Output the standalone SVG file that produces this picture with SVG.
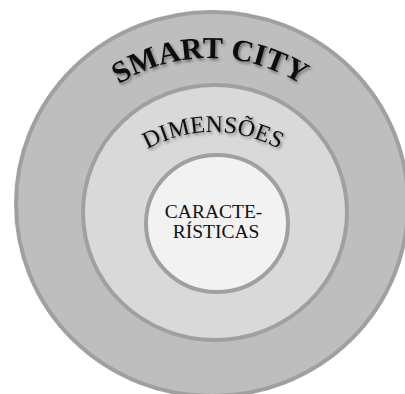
<svg xmlns="http://www.w3.org/2000/svg" width="405" height="394" viewBox="0 0 405 394">
  <defs>
    <style>
      .ring { stroke: #a0a0a0; stroke-width: 4; }
      .label { font-family: "Liberation Serif", "Times New Roman", serif; fill: #111; }
    </style>
    <filter id="textShadow" x="-20%" y="-40%" width="140%" height="180%">
      <feDropShadow dx="1.5" dy="2" stdDeviation="1.5" flood-color="#000" flood-opacity="0.45"/>
    </filter>
    <!-- baseline arcs for the curved titles -->
    <path id="arcSmartCity" d="M 40,228 A 170 170 0 0 1 380,228"/>
    <path id="arcDimensoes" d="M 78,267 A 135 135 0 0 1 348,267"/>
  </defs>

  <rect width="405" height="394" fill="#ffffff"/>

  <g id="smart-city">
    <ellipse class="ring" cx="212" cy="204" rx="196" ry="192" fill="#bebebe"/>
    <text class="label" font-size="30.5" font-weight="bold" filter="url(#textShadow)">
      <textPath href="#arcSmartCity" startOffset="50%" text-anchor="middle">SMART CITY</textPath>
    </text>
  </g>

  <g id="dimensoes">
    <ellipse class="ring" cx="215" cy="212.5" rx="132" ry="127.5" fill="#d9d9d9"/>
    <text class="label" font-size="24" filter="url(#textShadow)">
      <textPath href="#arcDimensoes" startOffset="50%" text-anchor="middle">DIMENSÕES</textPath>
    </text>
  </g>

  <g id="caracteristicas">
    <ellipse class="ring" cx="217" cy="223.5" rx="71" ry="68.5" fill="#f2f2f2"/>
    <text class="label" font-size="19.5" text-anchor="middle">
      <tspan x="216" y="218">CARACTE-</tspan>
      <tspan x="216" y="238">RÍSTICAS</tspan>
    </text>
  </g>
</svg>
